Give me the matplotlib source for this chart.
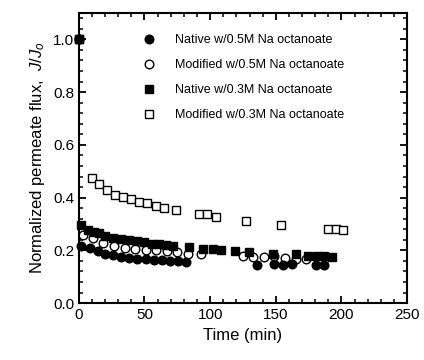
import matplotlib
matplotlib.use("Agg")
import matplotlib.pyplot as plt
from matplotlib.ticker import MultipleLocator

plt.rcParams['font.family'] = ['Liberation Sans', 'DejaVu Sans']
plt.rcParams['mathtext.fontset'] = 'custom'
plt.rcParams['mathtext.it'] = 'Liberation Sans:italic'
plt.rcParams['mathtext.rm'] = 'Liberation Sans'

labels = ["Native w/0.5M Na octanoate", "Modified w/0.5M Na octanoate",
          "Native w/0.3M Na octanoate", "Modified w/0.3M Na octanoate"]

# Native w/0.5M (filled circles)
t_n05 = [0, 2.0, 8.4, 14.2, 20.1, 25.9, 31.8, 37.9, 44.5, 50.8, 56.9, 63.0, 69.1, 75.2, 81.3,
         135.9, 148.9, 155.7, 162.1, 180.6, 187.0]
v_n05 = [1.0, 0.217, 0.210, 0.197, 0.186, 0.181, 0.173, 0.170, 0.169, 0.167, 0.165, 0.162, 0.159, 0.158, 0.155,
         0.144, 0.148, 0.144, 0.147, 0.144, 0.144]

# Modified w/0.5M (open circles)
t_m05 = [0, 2.8, 10.4, 18.5, 26.7, 35.1, 42.9, 51.1, 58.7, 66.8, 74.9, 82.8, 92.8,
         124.8, 132.9, 141.2, 148.6, 157.0, 165.2, 172.8]
v_m05 = [1.0, 0.260, 0.245, 0.228, 0.217, 0.210, 0.205, 0.203, 0.202, 0.197, 0.193, 0.187, 0.187,
         0.179, 0.175, 0.175, 0.178, 0.172, 0.169, 0.169]

# Native w/0.3M (filled squares)
t_n03 = [0, 2.0, 7.1, 11.4, 15.5, 19.8, 25.7, 31.8, 37.9, 44.0, 50.0, 55.4, 60.7, 66.3, 71.9,
         83.8, 94.8, 101.9, 108.0, 118.6, 129.3, 148.1, 165.2, 174.8, 181.1, 186.7, 193.1]
v_n03 = [1.0, 0.295, 0.279, 0.270, 0.264, 0.255, 0.246, 0.242, 0.239, 0.234, 0.230, 0.225, 0.223, 0.220, 0.217,
         0.211, 0.206, 0.205, 0.201, 0.197, 0.193, 0.188, 0.186, 0.179, 0.179, 0.177, 0.175]

# Modified w/0.3M (open squares)
t_m03 = [0, 9.7, 15.5, 21.6, 27.7, 33.8, 39.9, 46.0, 51.8, 58.5, 64.8, 73.9,
         91.7, 97.6, 104.4, 127.3, 154.0, 189.8, 195.9, 201.2]
v_m03 = [1.0, 0.473, 0.453, 0.428, 0.409, 0.402, 0.393, 0.384, 0.378, 0.370, 0.361, 0.353,
         0.337, 0.337, 0.326, 0.311, 0.295, 0.280, 0.280, 0.277]

fig = plt.figure(figsize=(4.24, 3.6), dpi=100)
ax = fig.add_axes([0.186, 0.158, 0.774, 0.806])

ms = 6.2
ax.plot(t_m03, v_m03, 's', ms=ms-0.6, mfc='white', mec='black', mew=1, ls='none', label=labels[3], clip_on=False)
ax.plot(t_m05, v_m05, 'o', ms=ms, mfc='white', mec='black', mew=1, ls='none', label=labels[1], clip_on=False)
ax.plot(t_n03, v_n03, 's', ms=ms-0.6, mfc='black', mec='black', mew=1, ls='none', label=labels[2], clip_on=False)
ax.plot(t_n05, v_n05, 'o', ms=ms, mfc='black', mec='black', mew=1, ls='none', label=labels[0], clip_on=False)

ax.set_xlim(0, 250)
ax.set_ylim(0, 1.1)
ax.xaxis.set_major_locator(MultipleLocator(50))
ax.xaxis.set_minor_locator(MultipleLocator(10))
ax.yaxis.set_minor_locator(MultipleLocator(0.04))
ax.set_yticks([0, 0.2, 0.4, 0.6, 0.8, 1.0])
ax.set_yticklabels(["0.0", "0.2", "0.4", "0.6", "0.8", "1.0"])
ax.tick_params(which='both', direction='in', top=True, right=True, labelsize=11)
ax.tick_params(which='major', length=5, width=1.3)
ax.tick_params(which='minor', length=3, width=1.1)
for s in ax.spines.values():
    s.set_linewidth(1.5)

ax.set_xlabel("Time (min)", fontsize=12)
ax.set_ylabel(r"Normalized permeate flux,  $J/J_o$", fontsize=12)

handles, labs = ax.get_legend_handles_labels()
order = [labs.index(l) for l in labels]
leg = ax.legend([handles[i] for i in order], [labs[i] for i in order],
                loc='upper left', bbox_to_anchor=(0.18, 0.945), frameon=False,
                fontsize=9.0, handlelength=1.0, handletextpad=1.6, labelspacing=1.05,
                borderaxespad=0)

fig.savefig("out.png", dpi=100)
